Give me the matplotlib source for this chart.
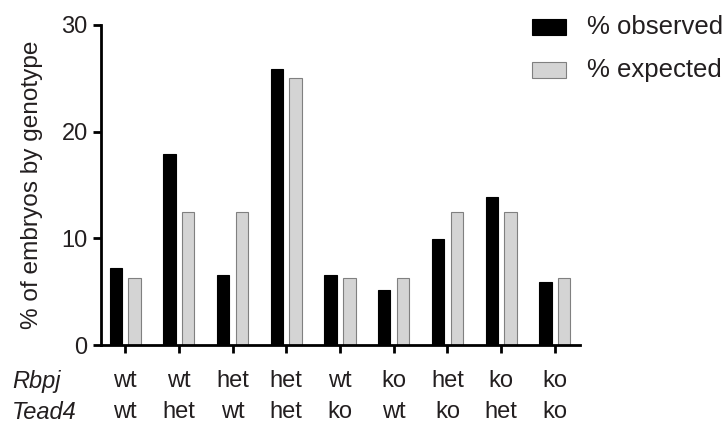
import numpy as np
import matplotlib
matplotlib.use('Agg')
import matplotlib.pyplot as plt
from matplotlib.patches import Rectangle
from matplotlib.transforms import blended_transform_factory

plt.rcParams['font.family'] = ['Liberation Sans', 'DejaVu Sans']

# genotype rows under each group
rbpj = ['wt', 'wt', 'het', 'het', 'wt', 'ko', 'het', 'ko', 'ko']
tead4 = ['wt', 'het', 'wt', 'het', 'ko', 'wt', 'ko', 'het', 'ko']

# % of embryos by genotype
observed = [7.25, 17.9, 6.55, 25.9, 6.55, 5.2, 9.9, 13.9, 5.9]
expected = [6.25, 12.5, 12.5, 25.0, 6.25, 6.25, 12.5, 12.5, 6.25]
series = ['% observed', '% expected']

text_col = '#231f20'
grey = '#d4d4d4'
grey_edge = '#808080'
W, H = 726, 423

fig = plt.figure(figsize=(7.26, 4.23), dpi=100)
ax = fig.add_axes([0.139, 0.184, 0.660, 0.757])

x = np.arange(len(rbpj))
w = 0.23
ax.bar(x - 0.175, observed, width=w, color='black', edgecolor='black', lw=0.8)
ax.bar(x + 0.175, expected, width=w, color=grey, edgecolor=grey_edge, lw=0.8)

ax.set_xlim(-0.45, 8.47)
ax.set_ylim(0, 30)
ax.set_yticks([0, 10, 20, 30])
ax.set_xticks(x)
ax.set_xticklabels([])
for s in ['top', 'right']:
    ax.spines[s].set_visible(False)
for s in ['left', 'bottom']:
    ax.spines[s].set_linewidth(2)
ax.tick_params(axis='both', width=2, length=6, labelsize=17, colors='black', labelcolor=text_col)
ax.set_ylabel('% of embryos by genotype', fontsize=17.6, color=text_col, labelpad=13)

# genotype table under the axis
tr = blended_transform_factory(ax.transData, fig.transFigure)
row_y = [1 - 381 / H, 1 - 412 / H]
for i in range(len(rbpj)):
    ax.text(x[i], row_y[0], rbpj[i], transform=tr, ha='center', va='center',
            fontsize=17, color=text_col)
    ax.text(x[i], row_y[1], tead4[i], transform=tr, ha='center', va='center',
            fontsize=17, color=text_col)
fig.text(12 / W, row_y[0], 'Rbpj', style='italic', ha='left', va='center',
         fontsize=17, color=text_col)
fig.text(12 / W, row_y[1], 'Tead4', style='italic', ha='left', va='center',
         fontsize=17, color=text_col)

# legend, drawn by hand
for j, (lab, fc, ec) in enumerate(zip(series, ['black', grey], ['black', grey_edge])):
    yc = 27 + 43 * j
    fig.add_artist(Rectangle((532 / W, 1 - (yc + 8) / H), 34 / W, 16 / H,
                             transform=fig.transFigure, facecolor=fc, edgecolor=ec, lw=0.8))
    fig.text(587 / W, 1 - yc / H, lab, ha='left', va='center', fontsize=18.5, color=text_col)

fig.savefig('out.png', dpi=100)
